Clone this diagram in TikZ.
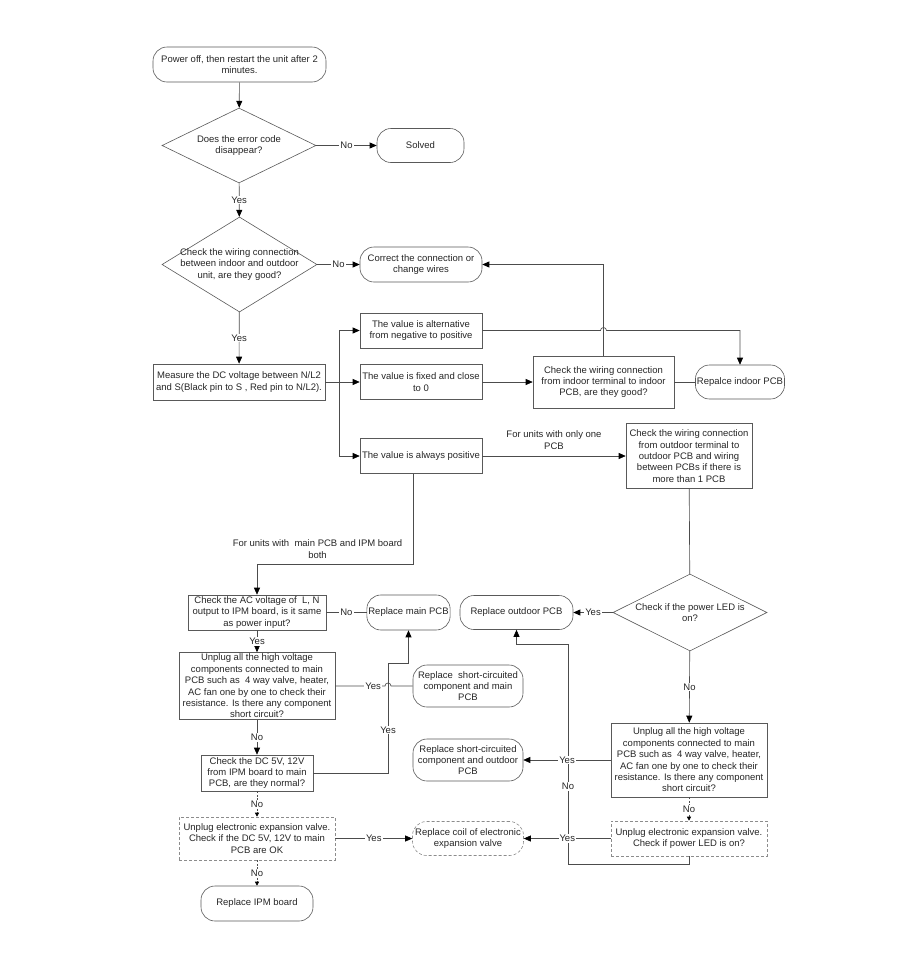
\documentclass[tikz,border=0pt]{standalone}
\usepackage{fontspec}
\setmainfont{Liberation Sans}
\usetikzlibrary{shapes.geometric,arrows.meta,calc}
\begin{document}
\begin{tikzpicture}[x=1pt,y=-1pt,
		font=\fontsize{9.5}{11.4}\selectfont,
		every node/.style={align=center,text=black!85},
		box/.style={draw=black!65,line width=0.6pt,inner sep=1.5pt,minimum height=35pt},
		term/.style={box,rounded corners=14pt},
		dbox/.style={box,draw=black!45,dash pattern=on 3pt off 2pt},
		dterm/.style={term,draw=black!45,dash pattern=on 3pt off 2pt},
		decision/.style={diamond,draw=black!65,line width=0.6pt,inner sep=0pt},
		lab/.style={fill=white,inner sep=1pt},
		conn/.style={draw=black!70,line width=0.65pt},
		arr/.style={conn,-{Triangle[length=7pt,width=6pt,color=black]}},
		darr/.style={conn,dash pattern=on 2pt off 1.5pt,-{Triangle[length=4pt,width=4pt,color=black]}}]
	\useasboundingbox (0,0) rectangle (920,972);
	% upper part
	\node[term,minimum width=173pt] (restart) at (239.5,64.5) {Power off, then restart the unit after 2\\minutes.};
	\node[decision,minimum width=154pt,minimum height=75pt] (codegone) at (239,145.5) {};
	\node (codegonetxt) at (codegone) {Does the error code\\disappear?};
	\node[term,minimum width=87pt,minimum height=34pt] (solved) at (420.5,145.5) {Solved};
	\node[decision,minimum width=155pt,minimum height=95pt] (wiring) at (239.5,264.5) {};
	\node (wiringtxt) at (wiring) {Check the wiring connection\\between indoor and outdoor\\unit, are they good?};
	\node[term,minimum width=122pt] (correct) at (421,264.5) {Correct the connection or\\change wires};
	\node[box,minimum width=172pt,minimum height=36pt] (measure) at (239,382) {Measure the DC voltage between N/L2\\and S(Black pin to S , Red pin to N/L2).};
	\node[box,minimum width=122pt] (alt) at (421,330.5) {The value is alternative\\from negative to positive};
	\node[box,minimum width=122pt] (fixed) at (421,382) {The value is fixed and close\\to 0};
	\node[box,minimum width=122pt] (pos) at (421,456) {The value is always positive};
	\node[box,minimum width=141pt,minimum height=52pt] (chkin) at (603.5,382) {Check the wiring connection\\from indoor terminal to indoor\\PCB, are they good?};
	\node[term,minimum width=86pt,minimum height=34pt] (replin) at (740,382) {Repalce indoor PCB};
	\node[box,minimum width=126pt,minimum height=65pt] (chkout) at (689,456) {Check the wiring connection\\from outdoor terminal to\\outdoor PCB and wiring\\between PCBs if there is\\more than 1 PCB};
	% right column
	\node[decision,minimum width=154pt,minimum height=77pt] (led) at (690,612.5) {};
	\node (ledtxt) at (led) {Check if the power LED is\\on?};
	\node[term,minimum width=113pt,minimum height=34pt] (outdoor) at (516.5,612.5) {Replace outdoor PCB};
	\node[box,minimum width=156pt,minimum height=74pt] (unr) at (689,760) {Unplug all the high voltage\\components connected to main\\PCB such as~ 4 way valve, heater,\\AC fan one by one to check their\\resistance. Is there any component\\short circuit?};
	\node[term,minimum width=110pt,minimum height=42pt] (shortout) at (468,760) {Replace short-circuited\\component and outdoor\\PCB};
	\node[dbox,minimum width=156pt] (evr) at (689,838.5) {Unplug electronic expansion valve.\\Check if power LED is on?};
	\node[dterm,minimum width=111pt,minimum height=34pt] (coil) at (468,838.5) {Replace coil of electronic\\expansion valve};
	% left column
	\node[box,minimum width=138pt] (chkac) at (257,612.5) {Check the AC voltage of~ L, N\\output to IPM board, is it same\\as power input?};
	\node[term,minimum width=83pt] (main) at (408.5,612.5) {Replace main PCB};
	\node[box,minimum width=156pt,minimum height=66pt] (unl) at (257,686) {Unplug all the high voltage\\components connected to main\\PCB such as~ 4 way valve, heater,\\AC fan one by one to check their\\resistance. Is there any component\\short circuit?};
	\node[term,minimum width=110pt,minimum height=42pt] (shortmain) at (468,686) {Replace~ short-circuited\\component and main\\PCB};
	\node[box,minimum width=112pt,minimum height=36pt] (chkdc) at (257,773) {Check the DC 5V, 12V\\from IPM board to main\\PCB, are they normal?};
	\node[dbox,minimum width=156pt,minimum height=43pt] (evl) at (257,838.5) {Unplug electronic expansion valve.\\Check if the DC 5V, 12V to main\\PCB are OK};
	\node[term,minimum width=112pt] (ipm) at (257,903.5) {Replace IPM board};
	\coordinate (split) at (339,382);
	\coordinate (ipmturn) at (413,564);
	\coordinate (dcup) at (388,663);
	\coordinate (bend) at (568,644);
	% connectors
	\draw[arr] (restart) -- (codegone);
	\draw[arr] (codegone) -- node[lab]{No} (solved);
	\draw[arr] (codegone) -- node[lab]{Yes} (wiring);
	\draw[arr] (wiring) -- node[lab]{No} (correct);
	\draw[arr] (wiring) -- node[lab]{Yes} (measure);
	\draw[arr] (measure) -- (fixed);
	\draw[arr] (split) |- (alt.west);
	\draw[arr] (split) |- (pos.west);
	\draw[arr] (fixed) -- (chkin);
	\draw[conn] (chkin) -- (replin);
	\draw[arr] (chkin.north) |- (correct.east);
	\draw[arr] (alt.east) -- ($(chkin.north |- alt.east)+(-3,0)$) arc[start angle=180,end angle=0,radius=3pt] -- (replin.north |- alt.east) -- (replin.north);
	\draw[arr] (pos) -- node[above=3pt]{For units with only one\\PCB} (chkout);
	\draw[conn] (chkout) -- (led);
	\draw[arr] (led) -- node[lab]{Yes} (outdoor);
	\draw[arr] (led) -- node[lab]{No} (unr);
	\draw[arr] (evr.south) -- ++(0,8) -| node[lab,pos=0.676]{No} (bend) -| (outdoor.south);
	\draw[arr] (unr) -- node[lab]{Yes} (shortout);
	\draw[darr] (unr) -- node[lab]{No} (evr);
	\draw[arr] (evr) -- node[lab]{Yes} (coil);
	\draw[arr] (pos.south -| ipmturn) -- (ipmturn) -| node[above=2pt,pos=0.306]{For units with~ main PCB and IPM board\\both} (chkac.north);
	\draw[conn] (chkac) -- node[lab]{No} (main);
	\draw[arr] (chkac) -- node[lab]{Yes} (unl);
	\draw[arr] (chkdc.east) -| node[lab,pos=0.695]{Yes} (dcup) -| (main.south);
	\draw[conn] (unl.east) -- node[lab,pos=0.76]{Yes} ($(dcup |- unl.east)+(-3,0)$) arc[start angle=180,end angle=0,radius=3pt] -- (shortmain.west);
	\draw[arr] (unl) -- node[lab]{No} (chkdc);
	\draw[darr] (chkdc) -- node[lab]{No} (evl);
	\draw[arr] (evl) -- node[lab]{Yes} (coil);
	\draw[darr] (evl) -- node[lab]{No} (ipm);
\end{tikzpicture}
\end{document}
